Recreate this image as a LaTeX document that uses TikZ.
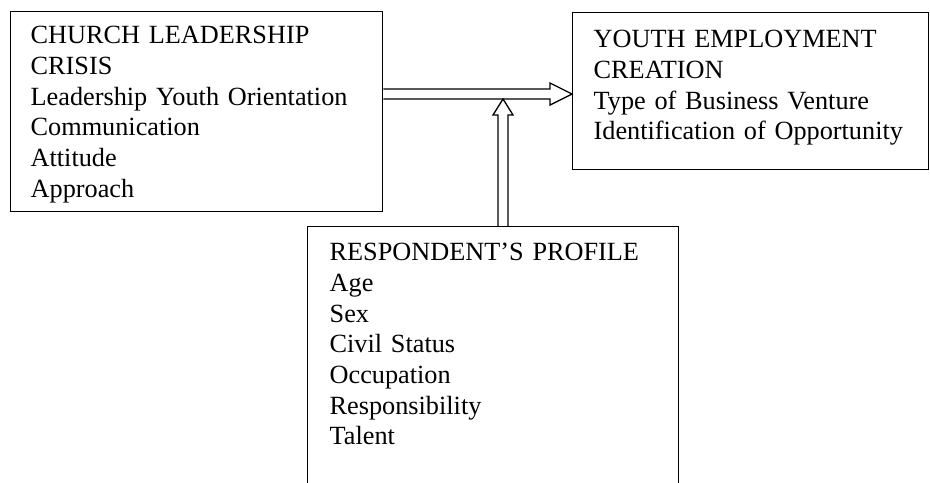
\documentclass[tikz,border=0pt]{standalone}
\usepackage{fontspec}
\setmainfont{Liberation Serif}
\usetikzlibrary{calc}

\tikzset{
  box/.style={draw, line width=1pt, anchor=north west, align=left,
    inner ysep=0pt, font=\fontsize{19.7pt}{23pt}\selectfont},
  hollow/.style={draw, line width=1pt, line join=miter}
}

\begin{document}
\begin{tikzpicture}[x=0.75pt, y=-0.75pt]
  \clip (0,0) rectangle (930,482);

  \node[box, inner xsep=15pt, text width=249pt, text height=24pt, text depth=126pt]
    (crisis) at (10,11) {CHURCH LEADERSHIP\\CRISIS\\Leadership Youth Orientation\\Communication\\Attitude\\Approach};
  \node[box, inner xsep=15.75pt, text width=235.5pt, text height=26.25pt, text depth=91.5pt]
    (creation) at (572,12) {YOUTH EMPLOYMENT\\CREATION\\Type of Business Venture\\Identification of Opportunity};
  \node[box, inner xsep=16.5pt, text width=245.25pt, text height=25.5pt, text depth=180pt]
    (profile) at (307,226) {RESPONDENT’S PROFILE\\Age\\Sex\\Civil Status\\Occupation\\Responsibility\\Talent};

  % open arrow from the crisis box to the creation box
  \coordinate (tip) at ($(creation.north west)+(0,82)$);
  \draw[hollow] ($(crisis.east |- tip)+(0,-5)$) -- ($(tip)+(-22,-5)$) -- ($(tip)+(-22,-11)$)
    -- (tip) -- ($(tip)+(-22,11)$) -- ($(tip)+(-22,5)$) -- ($(crisis.east |- tip)+(0,5)$);

  % open arrow up from the profile box
  \coordinate (foot) at ($(profile.north west)+(196,0)$);
  \coordinate (vtip) at ($(foot |- tip)+(0,5)$);
  \draw[hollow] ($(foot)+(-5,0)$) -- ($(vtip)+(-5,16)$) -- ($(vtip)+(-10,16)$)
    -- (vtip) -- ($(vtip)+(10,16)$) -- ($(vtip)+(5,16)$) -- ($(foot)+(5,0)$);
\end{tikzpicture}
\end{document}
